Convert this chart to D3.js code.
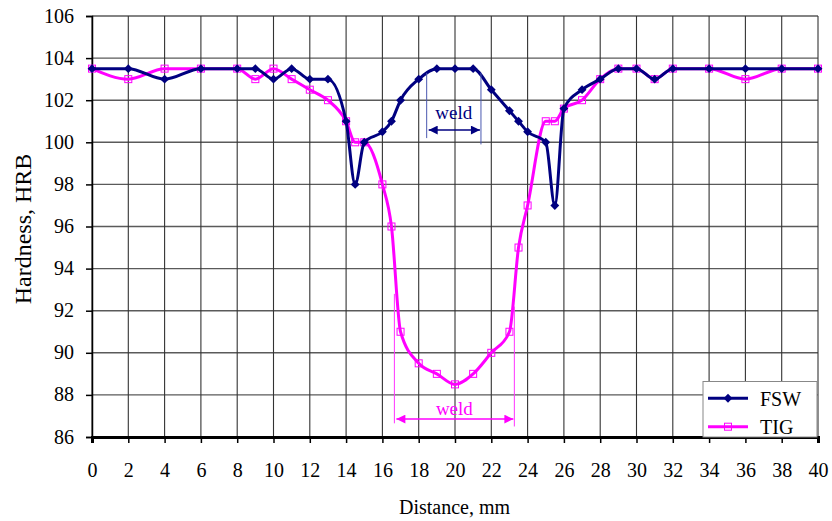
<!DOCTYPE html>
<html><head><meta charset="utf-8">
<script src="https://cdn.jsdelivr.net/npm/d3@7"></script>
<style>body{margin:0;background:#fff}svg{display:block}text{font-family:"Liberation Serif","Times New Roman",serif}</style>
</head><body>
<script>
const distance = [0,2,4,6,8,9,10,11,12,13,14,14.5,15,16,16.5,17,18,19,20,21,22,23,23.5,24,25,25.5,26,27,28,29,30,31,32,34,36,38,40];
const fswHardness = [103.5,103.5,103,103.5,103.5,103.5,103,103.5,103,103,101,98,100,100.5,101,102,103,103.5,103.5,103.5,102.5,101.5,101,100.5,100,97,101.6,102.5,103,103.5,103.5,103,103.5,103.5,103.5,103.5,103.5];
const tigHardness = [103.5,103,103.5,103.5,103.5,103,103.5,103,102.5,102,101,100,100,98,96,91,89.5,89,88.5,89,90,91,95,97,101,101,101.6,102,103,103.5,103.5,103,103.5,103.5,103,103.5,103.5];
const xTicks = d3.range(0,41,2);
const yTicks = d3.range(86,107,2);
const seriesNames = ["FSW","TIG"];

const W=832,H=521;
const m={left:92,right:14,top:16,bottom:84};
const svg=d3.select("body").append("svg").attr("width",W).attr("height",H);
const x=d3.scaleLinear().domain([0,40]).range([m.left,W-m.right]);
const y=d3.scaleLinear().domain([86,106]).range([H-m.bottom,m.top]);

// grid
svg.append("g").selectAll("line").data(yTicks).join("line")
 .attr("x1",x(0)).attr("x2",x(40)).attr("y1",d=>y(d)).attr("y2",d=>y(d))
 .attr("stroke","#5a5a5a").attr("stroke-width",1.4);
svg.append("g").selectAll("line").data(xTicks).join("line")
 .attr("x1",d=>x(d)).attr("x2",d=>x(d)).attr("y1",y(86)).attr("y2",y(106))
 .attr("stroke","#333").attr("stroke-width",1.1);

// axes
const yAx=svg.append("g").attr("transform",`translate(${x(0)},0)`)
 .call(d3.axisLeft(y).tickValues(yTicks).tickSize(6).tickPadding(12));
const xAx=svg.append("g").attr("transform",`translate(0,${y(86)})`)
 .call(d3.axisBottom(x).tickValues(xTicks).tickSize(6).tickPadding(20));
[yAx,xAx].forEach(a=>{a.selectAll("text").attr("font-size",20).attr("fill","#000")
 .style("font-family","'Liberation Serif',serif");
 a.selectAll("line").attr("stroke","#000").attr("stroke-width",1.5);});
yAx.selectAll("text").attr("dy","0.3em");
yAx.select(".domain").attr("stroke","#000").attr("stroke-width",1.5);
xAx.select(".domain").attr("stroke","#000").attr("stroke-width",3);

svg.append("text").attr("x",454.5).attr("y",514).attr("text-anchor","middle")
 .attr("font-size",20).text("Distance, mm");
svg.append("text").attr("transform","translate(31,229) rotate(-90)").attr("text-anchor","middle")
 .attr("font-size",24).text("Hardness, HRB");

const line=d3.line().x(d=>x(d[0])).y(d=>y(d[1])).curve(d3.curveMonotoneX);
const tig=distance.map((d,i)=>[d,tigHardness[i]]);
const fsw=distance.map((d,i)=>[d,fswHardness[i]]);

svg.append("path").datum(tig).attr("d",line).attr("fill","none").attr("stroke","#ff00ff").attr("stroke-width",3);
svg.append("g").selectAll("rect").data(tig).join("rect")
 .attr("x",d=>x(d[0])-3.5).attr("y",d=>y(d[1])-3.5).attr("width",7).attr("height",7)
 .attr("fill","none").attr("stroke","#ff00ff").attr("stroke-width",1);
svg.append("path").datum(fsw).attr("d",line).attr("fill","none").attr("stroke","#000080").attr("stroke-width",3);
const diamond=d3.symbol().type(d3.symbolDiamond2).size(50);
svg.append("g").selectAll("path").data(fsw).join("path")
 .attr("d",diamond).attr("transform",d=>`translate(${x(d[0])},${y(d[1])})`).attr("fill","#000080");

// annotations
const defs=svg.append("defs");
function marker(id,col){
 defs.append("marker").attr("id",id).attr("viewBox","0 0 10 10").attr("refX",10).attr("refY",5)
  .attr("markerWidth",11).attr("markerHeight",9).attr("markerUnits","userSpaceOnUse").attr("orient","auto-start-reverse")
  .append("path").attr("d","M0,0L10,5L0,10Z").attr("fill",col);
}
marker("an","#000080"); marker("am","#ff00ff");
function weld(x1,x2,yt1,yt2,yb1,yb2,ya,yl,col,arrowCol,mk){
 svg.append("line").attr("x1",x(x1)).attr("x2",x(x1)).attr("y1",y(yt1)).attr("y2",y(yb1)).attr("stroke",col).attr("stroke-width",1);
 svg.append("line").attr("x1",x(x2)).attr("x2",x(x2)).attr("y1",y(yt2)).attr("y2",y(yb2)).attr("stroke",col).attr("stroke-width",1);
 svg.append("line").attr("x1",x(x1)+2).attr("x2",x(x2)-1).attr("y1",y(ya)).attr("y2",y(ya))
  .attr("stroke",arrowCol).attr("stroke-width",1.5).attr("marker-start",`url(#${mk})`).attr("marker-end",`url(#${mk})`);
 svg.append("text").attr("x",x((x1+x2)/2)).attr("y",y(yl)).attr("text-anchor","middle")
  .attr("font-size",19).attr("fill",arrowCol).text("weld");
}
weld(18.44,21.43,103.3,103.3,100.2,99.9,100.58,101.12,"#4a58b0","#000080","an");
weld(16.66,23.27,92.8,92.2,86.65,86.5,86.85,87.05,"#ff33ff","#ff00ff","am");

// legend
const lg=svg.append("g");
lg.append("rect").attr("x",703).attr("y",381.5).attr("width",114).attr("height",55.5)
 .attr("fill","#fff").attr("stroke","#888").attr("stroke-width",1);
[[seriesNames[0],398.3,"#000080"],[seriesNames[1],426.7,"#ff00ff"]].forEach(([n,yy,c],i)=>{
 lg.append("line").attr("x1",708).attr("x2",748).attr("y1",yy).attr("y2",yy).attr("stroke",c).attr("stroke-width",3);
 if(i===0) lg.append("path").attr("d",diamond).attr("transform",`translate(728,${yy})`).attr("fill",c);
 else lg.append("rect").attr("x",724.5).attr("y",yy-3.5).attr("width",7).attr("height",7).attr("fill","none").attr("stroke",c);
 lg.append("text").attr("x",760).attr("y",yy+7.3).attr("font-size",20).text(n);
});
</script>
</body></html>
